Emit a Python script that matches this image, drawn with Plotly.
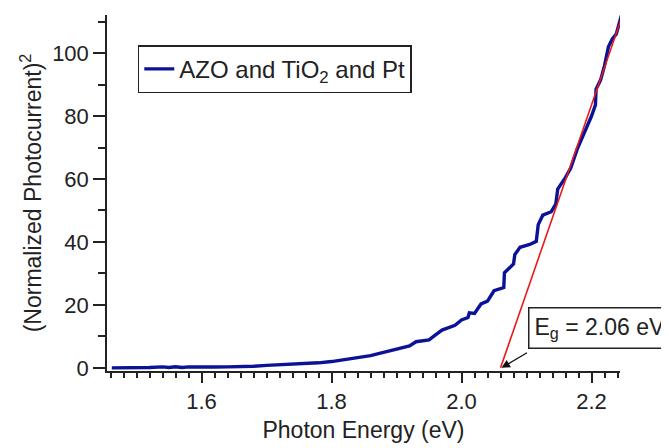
import plotly.graph_objects as go

# Photon energy (eV) and (normalized photocurrent)^2
energy = [1.462, 1.48, 1.50, 1.52, 1.54, 1.55, 1.56, 1.57, 1.58, 1.60, 1.62, 1.64,
          1.66, 1.68, 1.70, 1.72, 1.74, 1.76, 1.78, 1.80, 1.82, 1.84, 1.86, 1.88,
          1.90, 1.92, 1.93, 1.95, 1.96, 1.97, 1.99, 2.00, 2.01, 2.012, 2.02, 2.03,
          2.04, 2.05, 2.065, 2.066, 2.08, 2.082, 2.09, 2.105, 2.115, 2.118, 2.125,
          2.138, 2.145, 2.148, 2.16, 2.168, 2.178, 2.19, 2.20, 2.206, 2.207, 2.214,
          2.22, 2.226, 2.232, 2.238, 2.246]
photocurrent_sq = [0.0, 0.0, 0.05, 0.1, 0.3, 0.1, 0.35, 0.1, 0.3, 0.2, 0.25, 0.3,
                   0.35, 0.5, 0.8, 1.0, 1.1, 1.4, 1.6, 2.0, 2.6, 3.1, 3.9, 4.9,
                   5.9, 7.0, 8.3, 8.9, 10.5, 12.0, 13.5, 15.2, 16.0, 17.5, 17.3, 20.3,
                   21.2, 24.5, 25.5, 30.2, 33.0, 36.0, 38.3, 39.2, 40.2, 45.5, 48.5,
                   49.6, 52.0, 56.8, 60.5, 63.5, 69.5, 75.0, 80.0, 83.5, 88.5, 91.5,
                   96.0, 102.0, 104.5, 106.0, 112.0]

# Linear fit (Tauc-style extrapolation)
fit_energy = [2.06, 2.246]
fit_value = [0.0, 111.0]

band_gap = 2.06
series_name = "AZO and TiO<sub>2</sub> and Pt"
gap_label = "E<sub>g</sub> = 2.06 eV"

font_family = "Arial, Liberation Sans, sans-serif"

fig = go.Figure()
fig.add_trace(go.Scatter(x=energy, y=photocurrent_sq, mode="lines",
                         line=dict(color="rgb(12,18,150)", width=3.4, shape="linear"),
                         name=series_name))
fig.add_trace(go.Scatter(x=fit_energy, y=fit_value, mode="lines",
                         line=dict(color="rgb(235,25,25)", width=1.6),
                         showlegend=False))

fig.update_layout(
    width=669, height=448,
    margin=dict(l=99, r=57, t=7, b=85, autoexpand=False),
    paper_bgcolor="white", plot_bgcolor="white",
    font=dict(family=font_family, color="#222", size=22),
    showlegend=True,
    legend=dict(x=0.06, y=0.915, xanchor="left", yanchor="top",
                bordercolor="#222", borderwidth=1.5, bgcolor="white",
                font=dict(size=24), itemwidth=30),
    xaxis=dict(range=[1.4546, 2.2438], showgrid=False, zeroline=False,
               automargin=False,
               showline=True, linecolor="#222", linewidth=1.5,
               tickmode="array", tickvals=[1.6, 1.8, 2.0, 2.2],
               ticktext=["1.6", "1.8", "2.0", "2.2"],
               ticks="outside", ticklen=10, tickwidth=1.5, tickcolor="#222",
               minor=dict(dtick=0.02, tick0=1.46, ticks="outside", ticklen=5,
                          tickwidth=1.5, tickcolor="#222"),
               tickfont=dict(size=22),
               title=dict(text="Photon Energy (eV)", font=dict(size=23), standoff=9)),
    yaxis=dict(range=[-1, 112.1], showgrid=False, zeroline=False,
               automargin=False,
               showline=True, linecolor="#222", linewidth=1.5,
               tickmode="array", tickvals=[0, 20, 40, 60, 80, 100],
               ticks="outside", ticklen=12, tickwidth=1.5, tickcolor="#222",
               minor=dict(dtick=10, tick0=0, ticks="outside", ticklen=7,
                          tickwidth=1.5, tickcolor="#222"),
               tickfont=dict(size=22),
               title=dict(text="(Normalized Photocurrent)<sup>2</sup>",
                          font=dict(size=23), standoff=4)),
)

# arrow pointing to band gap intercept
fig.add_annotation(x=band_gap + 0.0015, y=0, xref="x", yref="y", text="",
                   showarrow=True, ax=27, ay=-16, arrowhead=2, arrowsize=1.3,
                   arrowwidth=1.3, arrowcolor="#111")
# band-gap label box
fig.add_annotation(x=2.1015, y=12.6, xref="x", yref="y", text=gap_label,
                   showarrow=False, xanchor="left", yanchor="middle",
                   bordercolor="#222", borderwidth=1.5, borderpad=5,
                   bgcolor="white", font=dict(size=23, family=font_family))

fig.write_html("out.html")
